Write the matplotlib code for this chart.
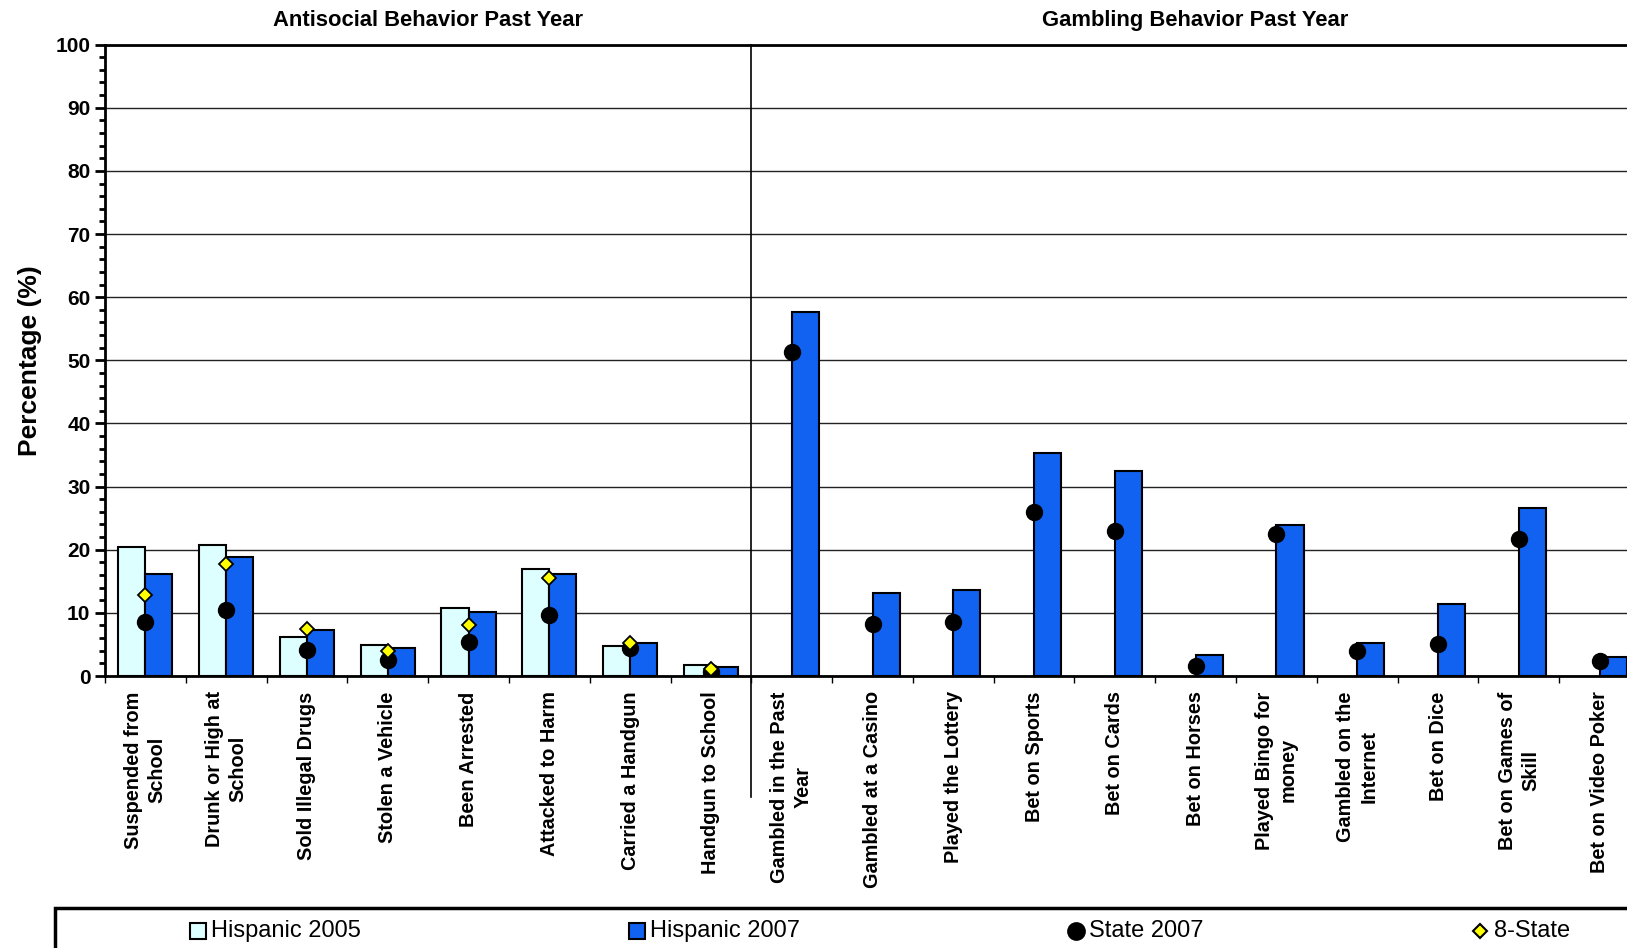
import numpy as np
import matplotlib
matplotlib.use('Agg')
import matplotlib.pyplot as plt
from matplotlib.lines import Line2D
from matplotlib.patches import Rectangle
from matplotlib.ticker import MultipleLocator, FixedLocator

plt.rcParams['font.family'] = ['Liberation Sans', 'DejaVu Sans']

categories = ['Suspended from\nSchool', 'Drunk or High at\nSchool', 'Sold Illegal Drugs',
              'Stolen a Vehicle', 'Been Arrested', 'Attacked to Harm', 'Carried a Handgun',
              'Handgun to School', 'Gambled in the Past\nYear', 'Gambled at a Casino',
              'Played the Lottery', 'Bet on Sports', 'Bet on Cards', 'Bet on Horses',
              'Played Bingo for\nmoney', 'Gambled on the\nInternet', 'Bet on Dice',
              'Bet on Games of\nSkill', 'Bet on Video Poker']

nan = np.nan
hispanic_2005 = [20.4, 20.8, 6.1, 4.9, 10.8, 16.9, 4.8, 1.8,
                 nan, nan, nan, nan, nan, nan, nan, nan, nan, nan, nan]
hispanic_2007 = [16.1, 18.9, 7.3, 4.4, 10.2, 16.2, 5.3, 1.5,
                 57.6, 13.1, 13.6, 35.3, 32.4, 3.4, 23.9, 5.3, 11.4, 26.6, 3.0]
state_2007 = [8.5, 10.5, 4.1, 2.5, 5.4, 9.7, 4.4, 0.6,
              51.3, 8.3, 8.5, 25.9, 23.0, 1.6, 22.5, 3.9, 5.0, 21.7, 2.4]
eight_state = [12.8, 17.7, 7.4, 3.9, 8.0, 15.5, 5.3, 1.1,
               nan, nan, nan, nan, nan, nan, nan, nan, nan, nan, nan]

section_titles = ['Antisocial Behavior Past Year', 'Gambling Behavior Past Year']
n_antisocial = 8

light = '#DDFFFF'
blue = '#1162F0'
W, H = 1627, 948

fig = plt.figure(figsize=(W / 100, H / 100), dpi=100)
ax = fig.add_axes([105 / W, 1 - 676 / H, 1535 / W, (676 - 44.6) / H])

x = np.arange(len(categories))
w = 0.335
ax.bar(x - w / 2, hispanic_2005, w, color=light, edgecolor='black', linewidth=1.5, zorder=3)
ax.bar(x + w / 2, hispanic_2007, w, color=blue, edgecolor='black', linewidth=1.5, zorder=3)
ax.plot(x, state_2007, 'o', color='black', markersize=11.5, linestyle='none', zorder=4)
ax.plot(x, eight_state, 'D', markerfacecolor='#FFFF00', markeredgecolor='black',
        markeredgewidth=1.3, markersize=7, linestyle='none', zorder=5)

ax.set_xlim(-0.5, len(categories) - 0.5)
ax.set_ylim(0, 100)
ax.yaxis.set_major_locator(MultipleLocator(10))
ax.yaxis.set_minor_locator(MultipleLocator(2))
ax.grid(axis='y', which='major', color='#222222', linewidth=1, zorder=0)
ax.set_axisbelow(True)

ax.set_xticks(x)
ax.set_xticklabels(categories, rotation=90, fontsize=14.3, fontweight='bold',
                   ha='center', va='top', multialignment='center', linespacing=1.3)
ax.xaxis.set_minor_locator(FixedLocator(np.arange(-0.5, len(categories), 1)))
ax.tick_params(axis='x', which='major', length=0, pad=11)
ax.tick_params(axis='x', which='minor', length=5, width=1, direction='out')
ax.tick_params(axis='y', which='major', length=7, width=2, direction='out', labelsize=15)
ax.tick_params(axis='y', which='minor', length=4, width=2, direction='out')
for lab in ax.get_yticklabels():
    lab.set_fontweight('bold')

for side in ['left', 'bottom', 'top']:
    ax.spines[side].set_linewidth(2)
ax.spines['right'].set_visible(False)

ax.set_ylabel('Percentage (%)', fontsize=19, fontweight='bold', labelpad=10)

# section divider and titles
ax.plot([n_antisocial - 0.5, n_antisocial - 0.5], [1, -121 / 631.4], color='black',
        linewidth=1.2, transform=ax.get_xaxis_transform(), clip_on=False, zorder=6)
ax.text((n_antisocial - 1) / 2, 1.038, section_titles[0], transform=ax.get_xaxis_transform(),
        ha='center', va='center', fontsize=15.8, fontweight='bold')
ax.text((n_antisocial + len(categories) - 1) / 2, 1.038, section_titles[1],
        transform=ax.get_xaxis_transform(), ha='center', va='center', fontsize=15.8,
        fontweight='bold')

# legend box
fig.add_artist(Rectangle((55 / W, -0.1), 1.2, 1 - 908 / H + 0.1, transform=fig.transFigure,
                         facecolor='white', edgecolor='black', linewidth=2.5, clip_on=False))
ly = 1 - 931 / H
items = [
    (198, 211, 's', light, 'black', 12, 'Hispanic 2005'),
    (637, 650, 's', blue, 'black', 12, 'Hispanic 2007'),
    (1076, 1089, 'o', 'black', 'black', 12, 'State 2007'),
    (1480, 1494, 'D', '#FFFF00', 'black', 7.5, '8-State'),
]
for mx, tx, mk, fc, ec, ms, label in items:
    fig.add_artist(Line2D([mx / W], [ly], transform=fig.transFigure, marker=mk,
                          markerfacecolor=fc, markeredgecolor=ec, markersize=ms,
                          markeredgewidth=1.5, linestyle='none'))
    fig.text(tx / W, ly, label, ha='left', va='center', fontsize=17)

fig.savefig('out.png', dpi=100)
